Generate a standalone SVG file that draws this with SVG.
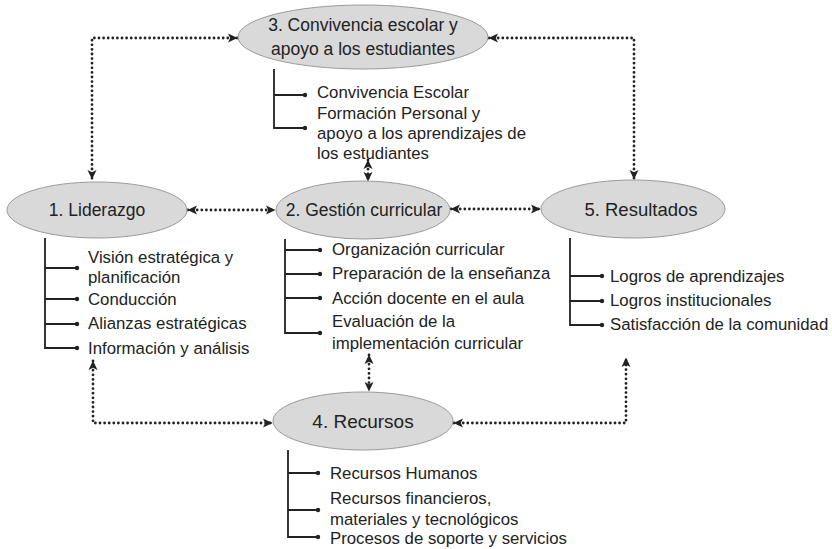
<svg xmlns="http://www.w3.org/2000/svg" width="832" height="549" viewBox="0 0 832 549">
  <style>
    .node ellipse { fill: #d9d9d9; stroke: #9a9a9a; stroke-width: 1; }
    .title { font-family: "Liberation Sans", Arial, sans-serif; font-size: 17.5px; fill: #222; text-anchor: middle; }
    .item { font-family: "Liberation Sans", Arial, sans-serif; font-size: 16.8px; fill: #222; }
    .bracket { fill: none; stroke: #222; stroke-width: 1.8; }
    .dot { fill: #222; }
    .link { fill: none; stroke: #222; stroke-width: 2.8; stroke-linecap: round; stroke-dasharray: 0 4.6; marker-start: url(#tip); marker-end: url(#tip); }
  </style>
  <defs>
    <marker id="tip" markerUnits="userSpaceOnUse" markerWidth="11" markerHeight="10" refX="9" refY="5" orient="auto-start-reverse">
      <path d="M0,0.5 L9.5,5 L0,9.5 L2.2,5 Z" fill="#222"/>
    </marker>
  </defs>

  <rect width="832" height="549" fill="#fff"/>

  <!-- dotted relations between areas -->
  <g id="connectors">
    <path class="link" d="M 237 38 H 92 V 179"/>
    <path class="link" d="M 489 38 H 634 V 179"/>
    <path class="link" d="M 188 210 H 275"/>
    <path class="link" d="M 451 209 H 540"/>
    <path class="link" d="M 368 160 V 181"/>
    <path class="link" d="M 369 355 V 391"/>
    <path class="link" d="M 93 361 V 423 H 272"/>
    <path class="link" d="M 454 423 H 626 V 358"/>
  </g>

  <g id="convivencia" class="node">
    <ellipse cx="363" cy="37" rx="125" ry="32"/>
    <text class="title" x="363" y="31">3. Convivencia escolar y</text>
    <text class="title" x="363" y="55">apoyo a los estudiantes</text>
    <path class="bracket" d="M 274 69 V 128 H 305 M 274 95 H 305"/>
    <circle class="dot" cx="305" cy="95" r="2.2"/>
    <circle class="dot" cx="305" cy="128" r="2.2"/>
    <text class="item" x="317" y="98">Convivencia Escolar</text>
    <text class="item" x="317" y="119">Formación Personal y</text>
    <text class="item" x="317" y="139">apoyo a los aprendizajes de</text>
    <text class="item" x="317" y="159">los estudiantes</text>
  </g>

  <g id="liderazgo" class="node">
    <ellipse cx="97" cy="210" rx="90" ry="28"/>
    <text class="title" x="97" y="216">1. Liderazgo</text>
    <path class="bracket" d="M 45 238 V 348 H 77 M 45 268 H 77 M 45 299 H 77 M 45 324 H 77"/>
    <circle class="dot" cx="77" cy="268" r="2.2"/>
    <circle class="dot" cx="77" cy="299" r="2.2"/>
    <circle class="dot" cx="77" cy="324" r="2.2"/>
    <circle class="dot" cx="77" cy="348" r="2.2"/>
    <text class="item" x="88" y="263">Visión estratégica y</text>
    <text class="item" x="88" y="283">planificación</text>
    <text class="item" x="88" y="305">Conducción</text>
    <text class="item" x="88" y="329">Alianzas estratégicas</text>
    <text class="item" x="88" y="354">Información y análisis</text>
  </g>

  <g id="gestion" class="node">
    <ellipse cx="363" cy="210" rx="87" ry="29"/>
    <text class="title" x="364" y="216">2. Gestión curricular</text>
    <path class="bracket" d="M 285 239 V 333 H 320 M 285 250 H 320 M 285 274 H 320 M 285 298 H 320"/>
    <circle class="dot" cx="320" cy="250" r="2.2"/>
    <circle class="dot" cx="320" cy="274" r="2.2"/>
    <circle class="dot" cx="320" cy="298" r="2.2"/>
    <circle class="dot" cx="320" cy="333" r="2.2"/>
    <text class="item" x="332" y="255">Organización curricular</text>
    <text class="item" x="332" y="279">Preparación de la enseñanza</text>
    <text class="item" x="332" y="304">Acción docente en el aula</text>
    <text class="item" x="332" y="327">Evaluación de la</text>
    <text class="item" x="332" y="349">implementación curricular</text>
  </g>

  <g id="resultados" class="node">
    <ellipse cx="633" cy="209" rx="92" ry="29"/>
    <text class="title" x="641" y="216" style="font-size:18.5px">5. Resultados</text>
    <path class="bracket" d="M 570 238 V 325 H 602 M 570 276 H 602 M 570 301 H 602"/>
    <circle class="dot" cx="602" cy="276" r="2.2"/>
    <circle class="dot" cx="602" cy="301" r="2.2"/>
    <circle class="dot" cx="602" cy="325" r="2.2"/>
    <text class="item" x="610" y="282">Logros de aprendizajes</text>
    <text class="item" x="610" y="306">Logros institucionales</text>
    <text class="item" x="610" y="330">Satisfacción de la comunidad</text>
  </g>

  <g id="recursos" class="node">
    <ellipse cx="363" cy="421" rx="90" ry="29"/>
    <text class="title" x="363" y="428" style="font-size:19px">4. Recursos</text>
    <path class="bracket" d="M 288 450 V 537 H 318 M 288 473 H 318 M 288 510 H 318"/>
    <circle class="dot" cx="318" cy="473" r="2.2"/>
    <circle class="dot" cx="318" cy="510" r="2.2"/>
    <circle class="dot" cx="318" cy="537" r="2.2"/>
    <text class="item" x="330" y="479">Recursos Humanos</text>
    <text class="item" x="330" y="504">Recursos financieros,</text>
    <text class="item" x="330" y="525">materiales y tecnológicos</text>
    <text class="item" x="330" y="544">Procesos de soporte y servicios</text>
  </g>
</svg>
